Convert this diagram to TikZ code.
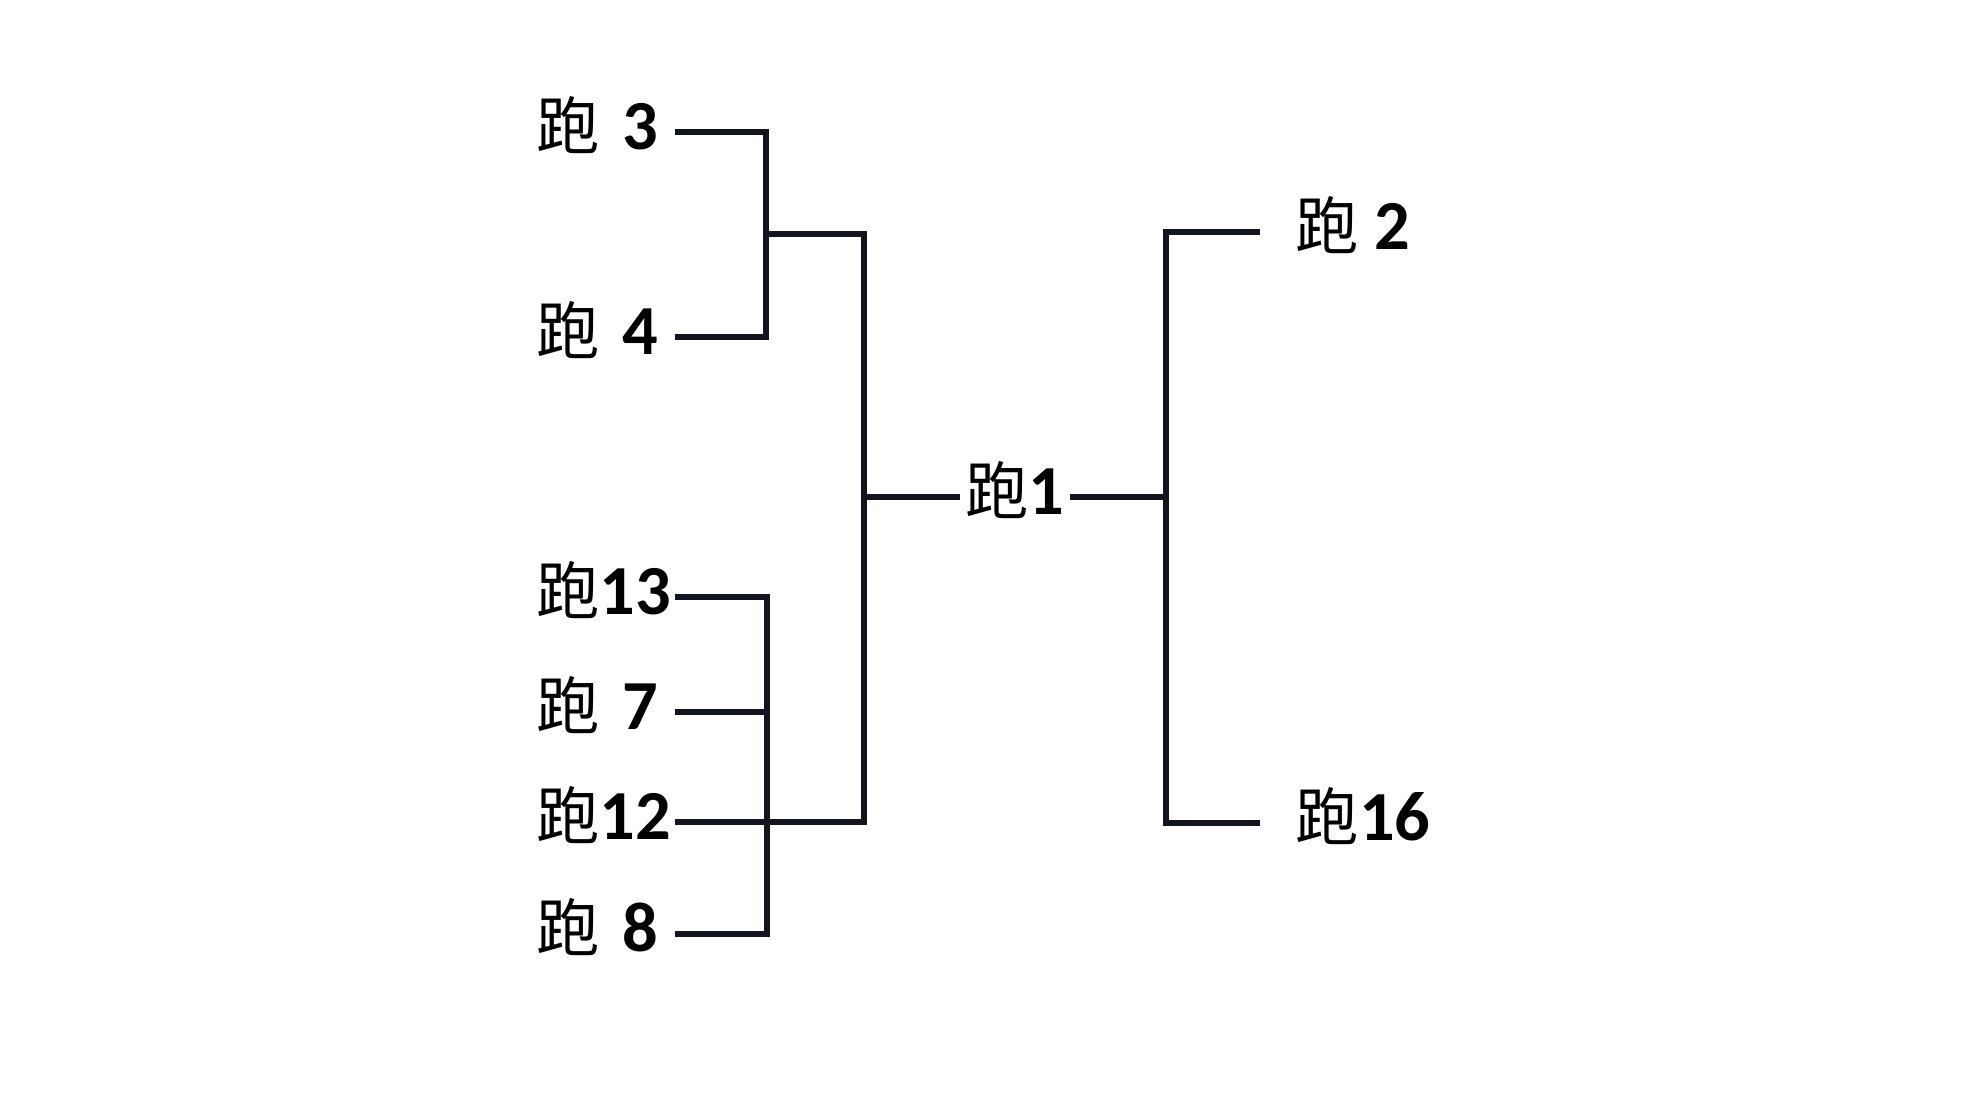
\documentclass[tikz,border=0pt]{standalone}
\usepackage{fontspec}
\usepackage{tikz}
\usetikzlibrary{positioning, calc}
\setmainfont{Carlito}
\newfontfamily\cjk{Noto Sans CJK SC}[Scale=0.9]
\definecolor{linea}{RGB}{18, 21, 32}
\newcommand{\pao}{{\cjk\mdseries 跑}}

\begin{document}
\begin{tikzpicture}[x=0.01cm, y=-0.01cm,
        ramo/.style={line width=1.85pt, draw=linea},
        nome/.style={font=\fontsize{20}{24}\selectfont\bfseries, inner sep=0pt,
            text height=0.5cm, text depth=0.16cm},
        sx/.style={nome, anchor=east, text width=1.38cm, align=left},
        dx/.style={nome, anchor=west}]
    \useasboundingbox (0,0) rectangle (1962,1109);

    % nomi a sinistra
    \node[sx] (p3) at (675,132) {\pao{} 3};
    \node[sx] (p4) at (675,337) {\pao{} 4};
    \node[sx] (p13) at (675,597) {\pao13};
    \node[sx] (p7) at (675,712) {\pao{} 7};
    \node[sx] (p12) at (675,822) {\pao12};
    \node[sx] (p8) at (675,934) {\pao{} 8};

    % centro e destra
    \node[nome, inner xsep=0.05cm] (p1) at (1015,497) {\pao1};
    \node[dx] (p2) at (1295,232) {\pao{} 2};
    \node[dx] (p16) at (1295,823) {\pao16};

    \coordinate (ga) at (766,234);
    \coordinate (gb) at (864,497);
    \coordinate (gc) at (767,712);
    \coordinate (gd) at (1166,497);

    \draw[ramo] (p3.east) -| (ga) |- (p4.east);
    \draw[ramo] (ga) -| (gb) |- (p12.east);
    \draw[ramo] (p13.east) -| (gc) |- (p8.east);
    \draw[ramo] (p7.east) -- (gc);
    \draw[ramo] (gb) -- (p1);
    \draw[ramo] (p1) -- (gd);
    \draw[ramo, shorten >=0.35cm] (gd) |- (p2.west);
    \draw[ramo, shorten >=0.35cm] (gd) |- (p16.west);
\end{tikzpicture}
\end{document}
